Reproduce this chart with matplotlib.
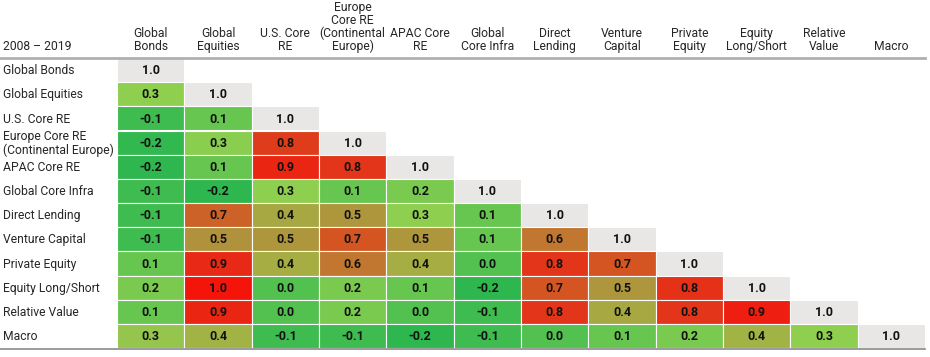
import numpy as np
import matplotlib
matplotlib.use("Agg")
import matplotlib.pyplot as plt
from matplotlib.colors import LinearSegmentedColormap
from matplotlib.patches import Rectangle
from matplotlib.lines import Line2D
from matplotlib.transforms import blended_transform_factory

plt.rcParams['font.family'] = ['Roboto', 'Lato', 'DejaVu Sans']

period = '2008 – 2019'
row_labels = ['Global Bonds', 'Global Equities', 'U.S. Core RE', 'Europe Core RE\n(Continental Europe)',
              'APAC Core RE', 'Global Core Infra', 'Direct Lending', 'Venture Capital',
              'Private Equity', 'Equity Long/Short', 'Relative Value', 'Macro']
col_labels = ['Global\nBonds', 'Global\nEquities', 'U.S. Core\nRE', 'Europe\nCore RE\n(Continental\nEurope)',
              'APAC Core\nRE', 'Global\nCore Infra', 'Direct\nLending', 'Venture\nCapital',
              'Private\nEquity', 'Equity\nLong/Short', 'Relative\nValue', 'Macro']

# lower triangle, row by row (estimated unrounded values; labels show 1 decimal)
corr_rows = [
    [],
    [0.30],
    [-0.10, 0.10],
    [-0.18, 0.28, 0.78],
    [-0.20, 0.10, 0.88, 0.80],
    [-0.10, -0.20, 0.30, 0.10, 0.20],
    [-0.10, 0.66, 0.42, 0.50, 0.30, 0.10],
    [-0.10, 0.52, 0.50, 0.70, 0.50, 0.10, 0.60],
    [0.10, 0.86, 0.40, 0.60, 0.40, 0.00, 0.80, 0.70],
    [0.20, 0.98, 0.00, 0.20, 0.10, -0.20, 0.70, 0.50, 0.82],
    [0.10, 0.88, 0.00, 0.20, 0.00, -0.10, 0.80, 0.42, 0.80, 0.92],
    [0.33, 0.38, -0.10, -0.10, -0.20, -0.10, 0.00, 0.10, 0.20, 0.38, 0.30],
]

cmap_stops = [(-0.25, '#25b54e'), (0.0, '#52c150'), (0.3, '#8ecf50'), (0.4, '#a5ad43'),
              (0.55, '#b38a3a'), (0.6, '#c07830'), (0.7, '#d45522'), (0.8, '#e2361a'),
              (0.9, '#ec2212'), (1.0, '#f71008')]
vmin, vmax = cmap_stops[0][0], cmap_stops[-1][0]
cmap = LinearSegmentedColormap.from_list(
    'corr', [((v - vmin) / (vmax - vmin), c) for v, c in cmap_stops])
diag_color = '#e8e7e5'

n = len(row_labels)
fig = plt.figure(figsize=(9.3, 3.57), dpi=100)
W, H = 930, 357
ax = fig.add_axes([117 / W, 1 - 348 / H, 808 / W, 290 / H])
ax.set_xlim(0, n)
ax.set_ylim(n, 0)
ax.axis('off')

for i in range(n):
    for j in range(i + 1):
        if i == j:
            val, color = 1.0, diag_color
        else:
            val = corr_rows[i][j]
            color = cmap((val - vmin) / (vmax - vmin))
        ax.add_patch(Rectangle((j, i), 1, 1, facecolor=color, edgecolor='white', linewidth=0.8))
        txt = f'{val:.1f}'
        if txt == '-0.0':
            txt = '0.0'
        ax.text(j + 0.5, i + 0.53, txt, ha='center', va='center', fontsize=9,
                fontweight='bold', color='#111111')

# row labels
tr = blended_transform_factory(fig.transFigure, ax.transData)
for i, lab in enumerate(row_labels):
    ax.text(3 / W, i + 0.53, lab, transform=tr, ha='left', va='center', fontsize=8.7,
            color='#262626', linespacing=1.1)

# column headers
tr2 = blended_transform_factory(ax.transData, fig.transFigure)
for j, lab in enumerate(col_labels):
    ax.text(j + 0.5, 1 - 53 / H, lab, transform=tr2, ha='center', va='bottom', fontsize=8.7,
            color='#262626', linespacing=0.98)
fig.text(3 / W, 1 - 53 / H, period, ha='left', va='bottom', fontsize=8.7, color='#262626')

# header and bottom rules
fig.add_artist(Line2D([0, 925 / W], [1 - 57.5 / H] * 2, color='#b0b0b0', linewidth=2))
fig.add_artist(Line2D([0, 925 / W], [1 - 349 / H] * 2, color='#8a8a8a', linewidth=1.2))

fig.savefig('out.png', dpi=100)
